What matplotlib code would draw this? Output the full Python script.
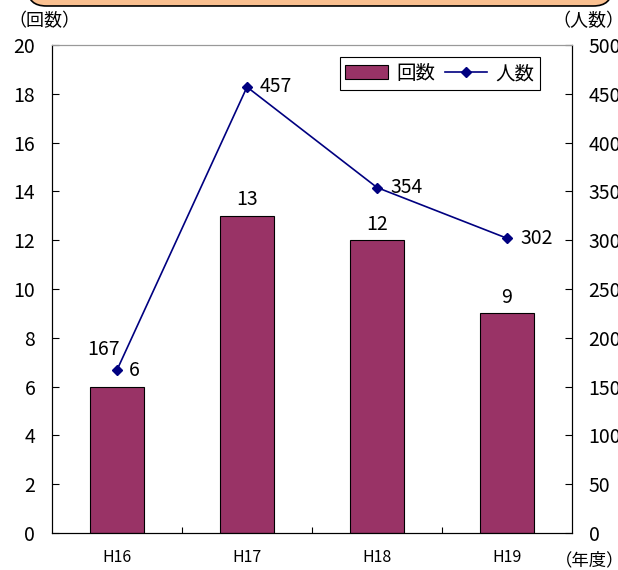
import matplotlib.pyplot as plt
from matplotlib.patches import FancyBboxPatch
from matplotlib.lines import Line2D
from matplotlib.patches import Patch

plt.rcParams['font.family'] = ['Noto Sans CJK JP', 'DejaVu Sans']

years = ["H16", "H17", "H18", "H19"]
counts = [6, 13, 12, 9]          # 回数
people = [167, 457, 354, 302]    # 人数

bar_color = "#993366"
line_color = "#000080"

fig = plt.figure(figsize=(6.18, 5.70), dpi=100)

# orange header box peeking in at the top
hdr = FancyBboxPatch((0.045, 0.9895), 0.945, 0.1, boxstyle="round,pad=0,rounding_size=0.03",
                     transform=fig.transFigure, facecolor="#FAC090", edgecolor="black",
                     linewidth=1.2, clip_on=False)
fig.patches.append(hdr)

ax = fig.add_axes([0.0841, 0.0649, 0.8415, 0.8561])
x = range(len(years))
ax.bar(x, counts, width=0.41, color=bar_color, edgecolor="black", linewidth=0.8, zorder=2)
ax.set_xlim(-0.5, 3.5)
ax.set_ylim(0, 20)
ax.set_yticks(range(0, 21, 2))
ax.set_xticks([0.5, 1.5, 2.5])
ax.set_xticklabels([])
ax.tick_params(axis="x", direction="in", length=4, width=0.8)
ax.tick_params(axis="y", direction="in", length=5, width=0.8, labelsize=14, pad=12)
ax.spines["top"].set_color("#999999")

for i, v in enumerate(counts):
    if i == 0:
        ax.text(i + 0.09, v + 0.65, str(v), ha="left", va="center", fontsize=14)
    else:
        ax.text(i, v + 0.65, str(v), ha="center", va="center", fontsize=14)

for i, lab in enumerate(years):
    ax.text(i, -0.05, lab, transform=ax.get_xaxis_transform(), ha="center", va="center", fontsize=11.5)

ax2 = ax.twinx()
ax2.plot(x, people, color=line_color, marker="D", markersize=5, linewidth=1.2, zorder=3)
ax2.set_ylim(0, 500)
ax2.set_yticks(range(0, 501, 50))
ax2.tick_params(axis="y", direction="in", length=5, width=0.8, labelsize=14, pad=12)
ax2.spines["top"].set_color("#999999")

for i, v in enumerate(people):
    if i == 0:
        ax2.text(i + 0.02, v + 21, str(v), ha="right", va="center", fontsize=14)
    else:
        ax2.text(i + 0.1, v, str(v), ha="left", va="center", fontsize=14)

# axis captions
fig.text(44.5 / 618, 1 - 21 / 570, "（回数）", ha="center", va="center", fontsize=13)
fig.text(588 / 618, 1 - 21 / 570, "（人数）", ha="center", va="center", fontsize=13)
fig.text(590 / 618, 1 - 560 / 570, "（年度）", ha="center", va="center", fontsize=12.5)

handles = [Patch(facecolor=bar_color, edgecolor="black", linewidth=0.8),
           Line2D([], [], color=line_color, marker="D", markersize=5, linewidth=1.2)]
leg = ax2.legend(handles, ["回数", "人数"], ncol=2, loc="upper right",
                 bbox_to_anchor=(0.9385, 0.975), borderaxespad=0, fancybox=False,
                 edgecolor="black", fontsize=14, handlelength=2.2, columnspacing=0.5,
                 handletextpad=0.4, borderpad=0.3, framealpha=1)
leg.get_frame().set_linewidth(0.8)

fig.savefig("out.png", dpi=100)
